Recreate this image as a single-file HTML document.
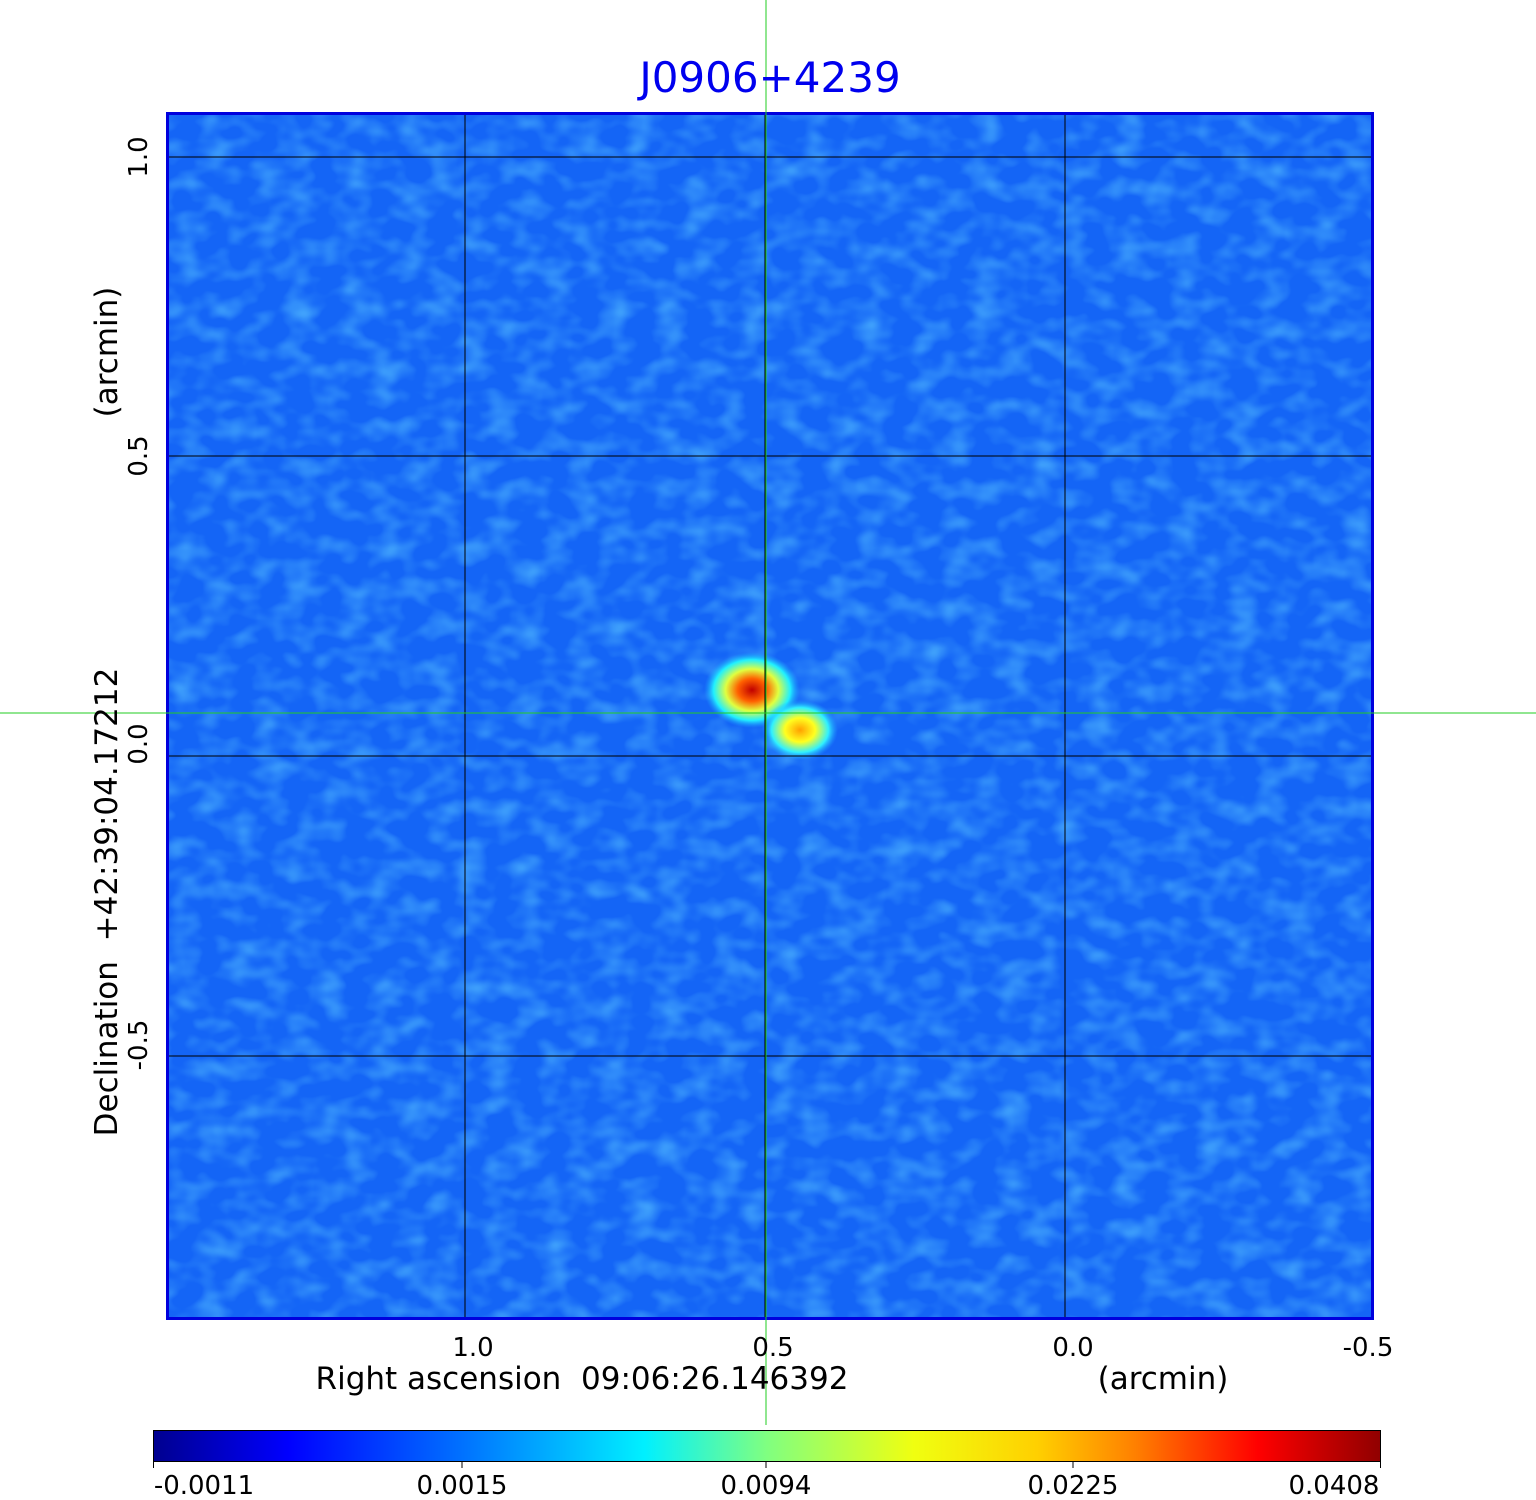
<!DOCTYPE html>
<html><head><style>
body{margin:0;background:#fff}
svg{display:block;font-family:"DejaVu Sans","Liberation Sans",sans-serif}
</style></head><body>
<svg width="1536" height="1500" viewBox="0 0 1536 1500">
<defs>
<filter id="n" x="0" y="0" width="100%" height="100%">
<feTurbulence type="fractalNoise" baseFrequency="0.035 0.05" numOctaves="2" seed="4"/>
<feColorMatrix values="0 0 0 0 0.1  0 0 0 0 0.55  0 0 0 0 1  0 0 0 1.3 -0.55"/>
</filter>
<linearGradient id="cb" x1="0" x2="1">
<stop offset="0" stop-color="#00008f"/>
<stop offset="0.11" stop-color="#0000ff"/>
<stop offset="0.25" stop-color="#0070ff"/>
<stop offset="0.4" stop-color="#00f0ff"/>
<stop offset="0.5" stop-color="#80ff80"/>
<stop offset="0.62" stop-color="#f0ff10"/>
<stop offset="0.72" stop-color="#ffd000"/>
<stop offset="0.8" stop-color="#ff8000"/>
<stop offset="0.9" stop-color="#ff0000"/>
<stop offset="1" stop-color="#900000"/>
</linearGradient>
<radialGradient id="g1"><stop offset="0" stop-color="#c00000"/><stop offset="0.3" stop-color="#ff6000"/><stop offset="0.55" stop-color="#e0ff40"/><stop offset="0.8" stop-color="#20f0ff"/><stop offset="1" stop-color="#20a0ff" stop-opacity="0"/></radialGradient>
<radialGradient id="g2"><stop offset="0" stop-color="#ffa000"/><stop offset="0.4" stop-color="#ffff20"/><stop offset="0.75" stop-color="#30f0ff"/><stop offset="1" stop-color="#20a0ff" stop-opacity="0"/></radialGradient>
</defs>
<rect x="168" y="114" width="1204" height="1203" fill="#1465f6"/>
<rect x="168" y="114" width="1204" height="1203" filter="url(#n)"/>
<ellipse cx="752" cy="690" rx="48" ry="38" fill="url(#g1)"/>
<ellipse cx="800" cy="730" rx="38" ry="30" fill="url(#g2)"/>
<g stroke="#000" stroke-width="1" shape-rendering="crispEdges">
<line x1="465" y1="114" x2="465" y2="1317"/><line x1="765" y1="114" x2="765" y2="1317"/><line x1="1065" y1="114" x2="1065" y2="1317"/>
<line x1="168" y1="157" x2="1372" y2="157"/><line x1="168" y1="456" x2="1372" y2="456"/><line x1="168" y1="756" x2="1372" y2="756"/><line x1="168" y1="1056" x2="1372" y2="1056"/>
</g>
<rect x="167.5" y="113.5" width="1205" height="1205" fill="none" stroke="#0000dd" stroke-width="3"/>
<g stroke="#22cc22" stroke-width="1" shape-rendering="crispEdges">
<line x1="766" y1="0" x2="766" y2="1425"/>
<line x1="0" y1="713" x2="1536" y2="713"/>
</g>
<text x="770" y="92" font-size="42" fill="#0000ee" text-anchor="middle">J0906+4239</text>
<g font-size="26" fill="#000" text-anchor="middle">
<text x="473" y="1356">1.0</text><text x="773" y="1356">0.5</text><text x="1073" y="1356">0.0</text><text x="1368" y="1356">-0.5</text>
<text x="582" y="1389" font-size="31">Right ascension&#160;&#160;09:06:26.146392</text>
<text x="1163" y="1389" font-size="31">(arcmin)</text>
<g transform="rotate(-90)">
<text x="-157" y="147">1.0</text><text x="-456" y="147">0.5</text><text x="-744" y="147">0.0</text><text x="-1045" y="147">-0.5</text>
<text x="-902" y="117" font-size="31">Declination&#160;&#160;+42:39:04.17212</text>
<text x="-352" y="117" font-size="31">(arcmin)</text>
</g>
<text x="204" y="1494">-0.0011</text><text x="462" y="1494">0.0015</text><text x="766" y="1494">0.0094</text><text x="1073" y="1494">0.0225</text><text x="1334" y="1494">0.0408</text>
</g>
<rect x="153.5" y="1430.5" width="1227" height="31" fill="url(#cb)" stroke="#000" stroke-width="1"/>
<g stroke="#000"><line x1="153.5" y1="1462" x2="153.5" y2="1468"/><line x1="462" y1="1462" x2="462" y2="1468"/><line x1="766" y1="1462" x2="766" y2="1468"/><line x1="1073" y1="1462" x2="1073" y2="1468"/><line x1="1380.5" y1="1462" x2="1380.5" y2="1468"/></g>
</svg>
</body></html>
